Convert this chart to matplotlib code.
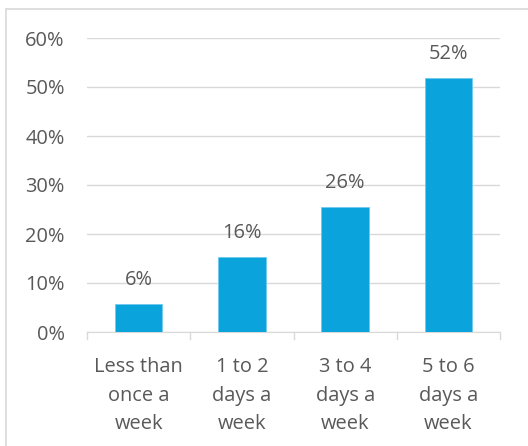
import matplotlib
matplotlib.use("Agg")
import matplotlib.pyplot as plt
from matplotlib.patches import Rectangle

categories = ["Less than\nonce a\nweek", "1 to 2\ndays a\nweek", "3 to 4\ndays a\nweek", "5 to 6\ndays a\nweek"]
values = [5.8, 15.3, 25.5, 51.8]
labels = ["6%", "16%", "26%", "52%"]
yticks = [0, 10, 20, 30, 40, 50, 60]

W, H = 528, 446
fig = plt.figure(figsize=(W/100, H/100), dpi=100)
plt.rcParams['font.family'] = ['Open Sans', 'DejaVu Sans']
gray = '#595959'
fs = 14.4

# outer border
fig.patches.append(Rectangle((6/W, -0.1), 1.2, (H-9)/H + 0.1, transform=fig.transFigure,
                             fill=False, edgecolor='#D9D9D9', linewidth=1.2))

ax = fig.add_axes([87/W, 1-332/H, (500-87)/W, (332-38)/H])
x = list(range(len(categories)))
ax.bar(x, values, width=0.46, color='#0AA3DC', edgecolor='#6FCBEF', linewidth=0.6, zorder=3)
for xi, v, l in zip(x, values, labels):
    ax.text(xi, v + 2.8, l, ha='center', va='bottom', fontsize=fs, color=gray)

ax.set_xlim(-0.5, 3.5)
ax.set_ylim(0, 60)
ax.set_yticks(yticks)
ax.set_yticklabels([f"{t}%" for t in yticks], fontsize=fs, color=gray)
ax.grid(axis='y', color='#D9D9D9', linewidth=1, zorder=0)
ax.set_xticks(x)
ax.set_xticklabels(categories, fontsize=fs, color=gray, linespacing=1.58)
ax.tick_params(axis='x', length=0, pad=18)
ax.tick_params(axis='y', length=0, pad=16)
for xb in [-0.5, 0.5, 1.5, 2.5, 3.5]:
    ax.plot([xb, xb], [0, -1.4], color='#D9D9D9', linewidth=1, clip_on=False)
for s in ['top', 'right', 'left']:
    ax.spines[s].set_visible(False)
ax.spines['bottom'].set_color('#D9D9D9')
fig.savefig("out.png", dpi=100)
